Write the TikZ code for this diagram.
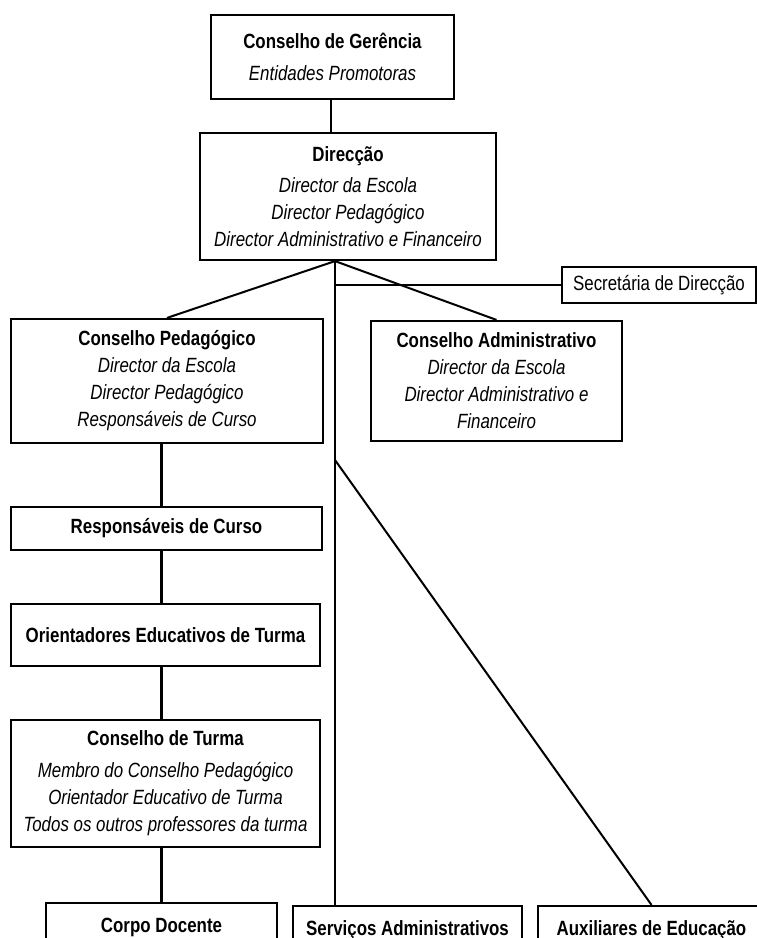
\documentclass[tikz,border=0pt]{standalone}
\usepackage{fontspec}
\setmainfont{Liberation Sans}[FakeStretch=0.82]
\tikzset{
  orgbox/.style ={draw=black,line width=2.2pt,align=center,inner sep=0pt,font=\fontsize{20.6}{27}\selectfont},
  sidebox/.style={orgbox,line width=2pt},
  link/.style   ={line width=2.2pt,draw=black},
  slant/.style  ={link,line width=2pt},
}
\begin{document}
\begin{tikzpicture}[x=1pt,y=-1pt]
  \useasboundingbox (0,0) rectangle (757,938);

  \node[orgbox, minimum width=243pt, minimum height=84pt] (ger) at (332.5,57)
    {\textbf{Conselho de Gerência}\\[5pt]\textit{Entidades Promotoras}};
  \node[orgbox, minimum width=296pt, minimum height=127pt] (dir) at (348,196.5)
    {\textbf{Direcção}\\[4pt]\textit{Director da Escola}\\\textit{Director Pedagógico}\\\textit{Director Administrativo e Financeiro}};
  \node[sidebox, minimum width=194pt, minimum height=36pt] (sec) at (659,285) {Secretária de Direcção};

  \node[orgbox, minimum width=312pt, minimum height=124pt] (ped) at (167,381)
    {\textbf{Conselho Pedagógico}\\\textit{Director da Escola}\\\textit{Director Pedagógico}\\\textit{Responsáveis de Curso}};
  \node[orgbox, minimum width=251pt, minimum height=120pt] (adm) at (496.5,381)
    {\textbf{Conselho Administrativo}\\\textit{Director da Escola}\\\textit{Director Administrativo e}\\\textit{Financeiro}};

  \node[orgbox, minimum width=311pt, minimum height=43pt] (resp) at (166.5,528.5) {\textbf{Responsáveis de Curso}};
  \node[orgbox, minimum width=309pt, minimum height=62pt] (ori) at (165.5,635) {\textbf{Orientadores Educativos de Turma}};
  \node[orgbox, minimum width=309pt, minimum height=127pt] (ct) at (165.5,783.5)
    {\textbf{Conselho de Turma}\\[5pt]\textit{Membro do Conselho Pedagógico}\\\textit{Orientador Educativo de Turma}\\\textit{Todos os outros professores da turma}};

  \node[orgbox, minimum width=231pt, minimum height=48pt] (cd) at (161.5,927) {\textbf{Corpo Docente}};
  \node[orgbox, minimum width=229pt, minimum height=48pt] (serv) at (407.5,930) {\textbf{Serviços Administrativos}};
  \node[orgbox, minimum width=227pt, minimum height=48pt] (aux) at (651.5,930) {\textbf{Auxiliares de Educação}};

  % hub under Direccao
  \coordinate (hub) at ([xshift=-13pt]dir.south);
  \coordinate (split) at (hub |- 0,460);

  \draw[link] (ger.south -| hub) ++(-4pt,0) coordinate (gs) -- (gs |- dir.north);
  \draw[slant] (hub) -- (ped.north);
  \draw[slant] (hub) -- (adm.north);
  \draw[link] (hub) -- (hub |- serv.north);
  \draw[link] (hub |- sec.west) -- (sec.west);
  \draw[slant] (split) -- (aux.north);

  % pedagogical chain
  \draw[link] (ped.south -| cd.north) -- (resp.north -| cd.north);
  \draw[link] (resp.south -| cd.north) -- (ori.north -| cd.north);
  \draw[link] (ori.south -| cd.north) -- (ct.north -| cd.north);
  \draw[link] (ct.south -| cd.north) -- (cd.north);
\end{tikzpicture}
\end{document}
